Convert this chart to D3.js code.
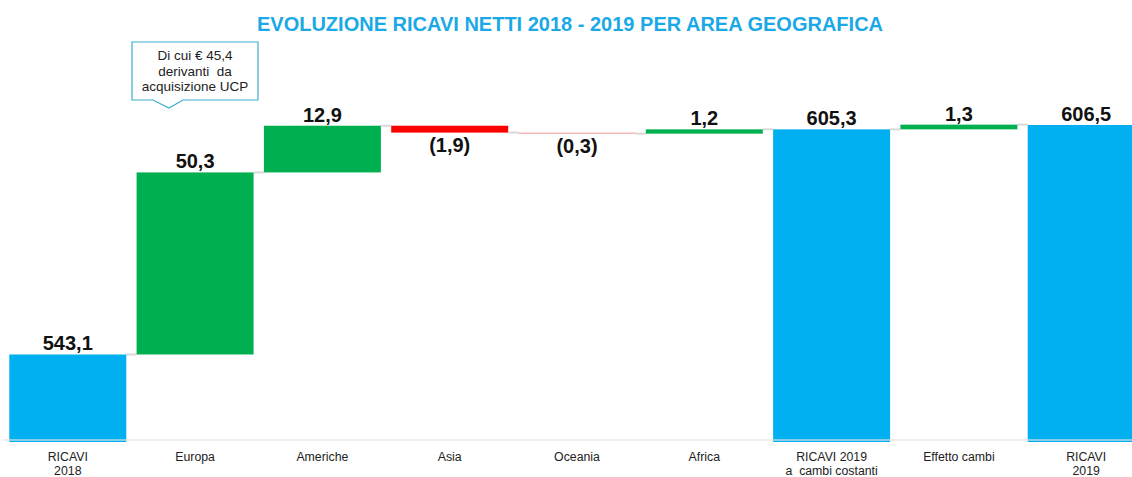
<!DOCTYPE html>
<html>
<head>
<meta charset="utf-8">
<script src="https://d3js.org/d3.v7.min.js"></script>
<style>
  body { margin: 0; background: #fff; }
  svg { display: block; font-family: "Liberation Sans", Arial, sans-serif; }
</style>
</head>
<body>
<svg id="chart" width="1132" height="477"></svg>
<script>
// waterfall data (milioni di euro)
var categories = ["RICAVI\n2018", "Europa", "Americhe", "Asia", "Oceania", "Africa",
                  "RICAVI 2019\na  cambi costanti", "Effetto cambi", "RICAVI\n2019"];
var values = [543.1, 50.3, 12.9, -1.9, -0.3, 1.2, 605.3, 1.3, 606.5];
var kinds  = ["total", "delta", "delta", "delta", "delta", "delta", "total", "delta", "total"];
var valueLabels = ["543,1", "50,3", "12,9", "(1,9)", "(0,3)", "1,2", "605,3", "1,3", "606,5"];
var calloutLines = ["Di cui \u20ac 45,4", "derivanti  da", "acquisizione UCP"];

var svg = d3.select("#chart");
var W = 1132, H = 477;

// running totals -> bar start / end
var run = 0;
var bars = values.map(function(v, i) {
  var b;
  if (kinds[i] == "total") { b = { from: null, to: v }; run = v; }
  else { b = { from: run, to: run + v }; run = run + v; }
  b.i = i; b.v = v; b.kind = kinds[i];
  return b;
});

var x = d3.scaleBand()
  .domain(d3.range(categories.length))
  .range([9.3, 1144.7])
  .paddingInner(0.081)
  .paddingOuter(0);

var y = d3.scaleLinear()
  .domain([519.2, 606.5])
  .range([441, 125]);

function color(b) {
  if (b.kind == "total") return "#00b0f0";
  if (b.v >= 0) return "#00b050";
  if (b.v > -1) return "#f4a6a6";
  return "#ff0000";
}
function barTop(b) { return b.kind == "total" ? y(b.to) : y(Math.max(b.from, b.to)); }
function barBottom(b) { return b.kind == "total" ? 442 : y(Math.min(b.from, b.to)); }

// title
svg.append("text")
  .attr("x", 570).attr("y", 31)
  .attr("text-anchor", "middle")
  .style("font-size", "20px").style("font-weight", "bold")
  .style("fill", "#1aa9e6")
  .text("EVOLUZIONE RICAVI NETTI 2018 - 2019 PER AREA GEOGRAFICA");

// connectors between bars
svg.selectAll(".conn")
  .data(bars.slice(0, -1))
  .enter().append("line")
    .attr("class", "conn")
    .attr("x1", function(d) { return x(d.i) + x.bandwidth(); })
    .attr("x2", function(d) { return x(d.i + 1); })
    .attr("y1", function(d) { return y(d.to); })
    .attr("y2", function(d) { return y(d.to); })
    .style("stroke", "#d9d9d9")
    .style("stroke-width", 2);

// bars
svg.selectAll(".bar")
  .data(bars)
  .enter().append("rect")
    .attr("class", "bar")
    .attr("x", function(d) { return x(d.i); })
    .attr("width", x.bandwidth())
    .attr("y", function(d) { return barTop(d); })
    .attr("height", function(d) { return Math.max(1.2, barBottom(d) - barTop(d)); })
    .style("fill", color);

// base line
svg.append("line")
  .attr("x1", 3).attr("x2", W)
  .attr("y1", 440).attr("y2", 440)
  .style("stroke", "#e3e3e3")
  .style("stroke-width", 2)
  .style("opacity", 0.6);

// value labels
svg.selectAll(".val")
  .data(bars)
  .enter().append("text")
    .attr("class", "val")
    .attr("x", function(d) { return x(d.i) + x.bandwidth() / 2; })
    .attr("y", function(d) { return d.v < 0 ? barBottom(d) + 19 : barTop(d) - 4; })
    .attr("text-anchor", "middle")
    .style("font-size", "20px").style("font-weight", "bold")
    .style("fill", "#111")
    .text(function(d) { return valueLabels[d.i]; });

// category labels
var cat = svg.selectAll(".cat")
  .data(categories)
  .enter().append("text")
    .attr("class", "cat")
    .attr("text-anchor", "middle")
    .attr("x", function(d, i) { return x(i) + x.bandwidth() / 2; })
    .attr("y", 461)
    .style("font-size", "12.3px")
    .style("fill", "#222")
    .style("white-space", "pre");
cat.selectAll("tspan")
  .data(function(d, i) { return d.split("\n").map(function(s) { return { s: s, i: i }; }); })
  .enter().append("tspan")
    .attr("x", function(d) { return x(d.i) + x.bandwidth() / 2; })
    .attr("dy", function(d, j) { return j == 0 ? 0 : 14; })
    .text(function(d) { return d.s; });

// callout box above Europa
var co = svg.append("g");
co.append("path")
  .attr("d", "M132,42 H258 V100 H183 L169,108 L153,100 H132 Z")
  .style("fill", "#fff")
  .style("stroke", "#3aaed0")
  .style("stroke-width", 1.2);
co.selectAll("text")
  .data(calloutLines)
  .enter().append("text")
    .attr("x", 195)
    .attr("y", function(d, i) { return 60 + i * 15.5; })
    .attr("text-anchor", "middle")
    .style("font-size", "13.5px")
    .style("fill", "#222")
    .style("white-space", "pre")
    .text(function(d) { return d; });
</script>
</body>
</html>
